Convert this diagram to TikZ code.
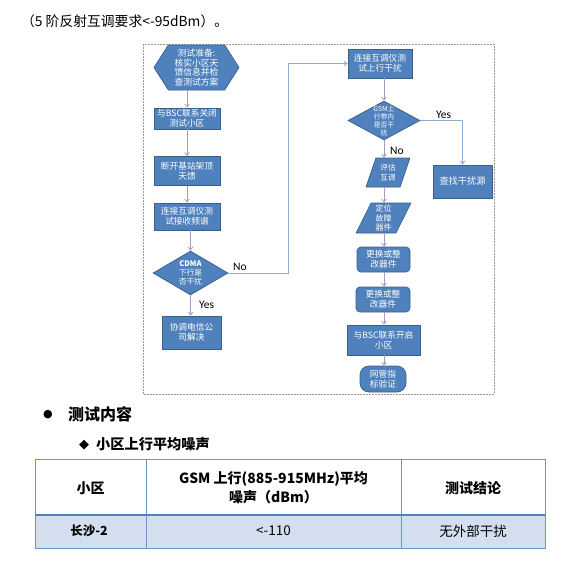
\documentclass[tikz,border=0pt]{standalone}
\usepackage{fontspec}
\setmainfont{Noto Sans CJK SC}
\newfontfamily\yesnofont{Carlito}
\newfontfamily\symfont{DejaVu Sans}
\usetikzlibrary{shapes.geometric,shapes.symbols,arrows.meta}
\definecolor{fcfill}{HTML}{4F81BD}
\definecolor{fcdraw}{HTML}{3A5F8D}
\definecolor{lilac}{HTML}{A99BC0}
\definecolor{elbow}{HTML}{8EACD2}
\definecolor{tabline}{HTML}{6F93C6}
\definecolor{tabthick}{HTML}{4F81BD}
\definecolor{tabfill}{HTML}{D3DFEE}
\tikzset{
  fc/.style={fill=fcfill,draw=fcdraw,line width=0.7pt,text=white,align=center,
    inner sep=0pt,font=\fontsize{8.7}{10.3}\selectfont},
  fcbox/.style={fc,rectangle},
  fcround/.style={fc,rectangle,rounded corners=4pt},
  fcpara/.style={fc,trapezium,trapezium left angle=70,trapezium right angle=110,trapezium stretches=true},
  fcdia/.style={fc,diamond},
  fctext/.style={text=white,align=center,inner sep=0pt},
  vline/.style={draw=lilac,line width=0.8pt,-{Straight Barb[length=3pt,width=4.5pt]}},
  eline/.style={draw=elbow,line width=0.9pt,-{Straight Barb[length=3pt,width=4.5pt]}},
  yn/.style={font=\yesnofont\fontsize{11.5}{12}\selectfont,inner sep=0pt},
  tabtxt/.style={inner sep=0pt,align=center,font=\fontsize{13}{18}\selectfont}
}
\begin{document}
\begin{tikzpicture}[x=1pt,y=-1pt]
\useasboundingbox (0,0) rectangle (574,562);
% header line
\node[anchor=west,inner sep=0pt,font=\fontsize{13.8}{15}\selectfont] (hdr) at (21,21) {（5 阶反射互调要求<-95dBm）。};
% dashed frame
\draw[gray!80,dashed,dash pattern=on 2pt off 1pt,line width=0.5pt] (143,44) rectangle (494,394);
% left column
\node[fc,signal,signal to=west and east,signal pointer angle=115,minimum width=85pt,minimum height=45pt,
  font=\fontsize{8.8}{9.6}\selectfont] (hex) at (196.5,67.5) {测试准备:\\核实小区天\\馈信息并检\\查测试方案};
\node[fcbox,minimum width=66pt,minimum height=21pt] (b1) at (187,118.5) {与BSC联系关闭\\测试小区};
\node[fcbox,minimum width=66pt,minimum height=29pt] (b2) at (187,171) {断开基站架顶\\天馈};
\node[fcbox,minimum width=66pt,minimum height=27pt] (b3) at (187,216.5) {连接互调仪测\\试接收频谱};
\node[fcdia,minimum width=75pt,minimum height=44pt] (cdma) at (190.5,273) {};
\node[fctext,font=\fontsize{7.6}{8.6}\selectfont] (cdmat) at (cdma.center) {\textbf{CDMA}\\下行是\\否干扰};
\node[fcbox,minimum width=59pt,minimum height=33pt] (b4) at (191.5,332.5) {协调电信公\\司解决};
% right column
\node[fcbox,minimum width=64pt,minimum height=29pt] (r1) at (380,63.5) {连接互调仪测\\试上行干扰};
\node[fcdia,minimum width=72pt,minimum height=39pt] (gsm) at (384,120.5) {};
\node[fctext,font=\fontsize{6.8}{8}\selectfont] (gsmt) at (gsm.center) {GSM上\\行带内\\是否干\\扰};
\node[fcbox,minimum width=59pt,minimum height=33pt,font=\fontsize{9.2}{10.3}\selectfont] (find) at (462.5,181.5) {查找干扰源};
\node[fcpara,minimum width=44pt,minimum height=29pt,font=\fontsize{7.6}{10}\selectfont] (p1) at (388,172.5) {评估\\互调};
\node[fcpara,minimum width=55pt,minimum height=30pt,font=\fontsize{8}{9.6}\selectfont] (p2) at (383.5,218) {定位\\故障\\器件};
\node[fcround,minimum width=53pt,minimum height=25pt] (r2) at (383.5,259.5) {更换或整\\改器件};
\node[fcround,minimum width=54pt,minimum height=25pt] (r3) at (383,299.5) {更换或整\\改器件};
\node[fcbox,minimum width=73pt,minimum height=30pt] (r4) at (383.5,340) {与BSC联系开启\\小区};
\node[fc,rectangle,rounded corners=9pt,minimum width=46pt,minimum height=26pt] (r5) at (383,379) {网管指\\标验证};
% connectors left
\draw[vline] (hex.south -| b1.north) -- (b1.north);
\draw[vline] (b1.south) -- (b2.north);
\draw[vline] (b2.south) -- (b3.north);
\draw[vline] (b3.south -| cdma.north) -- (cdma.north);
\draw[vline] (cdma.south) -- (cdma.south |- b4.north);
\node[yn,anchor=west] (yes1) at (199,305) {Yes};
\coordinate (cturn) at (288,273);
\draw[eline] (cdma.east) -- (cturn) |- (r1.west);
\node[yn,anchor=west] (no1) at (233,267) {No};
% connectors right
\draw[vline] (r1.south -| gsm.north) -- (gsm.north);
\draw[eline] (gsm.east) -| (find.north);
\node[yn,anchor=west] (yes2) at (436,115) {Yes};
\draw[vline] (gsm.south) -- (gsm.south |- p1.north);
\node[yn,anchor=west] (no2) at (390,151) {No};
\draw[vline] (p1.south -| gsm.south) -- (gsm.south |- p2.north);
\draw[vline] (p2.south -| gsm.south) -- (gsm.south |- r2.north);
\draw[vline] (r2.south -| gsm.south) -- (gsm.south |- r3.north);
\draw[vline] (r3.south -| gsm.south) -- (gsm.south |- r4.north);
\draw[vline] (r4.south -| gsm.south) -- (gsm.south |- r5.north);
% bullets
\node[inner sep=0pt,font=\symfont\fontsize{11}{12}\selectfont] (bul1) at (48,415) {●};
\node[anchor=west,inner sep=0pt,font=\bfseries\fontsize{16}{18}\selectfont] (sec) at (68,414) {测试内容};
\node[inner sep=0pt,font=\symfont\fontsize{13}{14}\selectfont] (bul2) at (84,445) {◆};
\node[anchor=west,inner sep=0pt,font=\bfseries\fontsize{14.2}{16}\selectfont] (sub) at (96,444) {小区上行平均噪声};
% table
\fill[tabfill] (35,515) rectangle (545,548);
\draw[tabline,line width=0.8pt] (35,459) rectangle (545,548);
\draw[tabline,line width=0.8pt] (146,459) -- (146,548);
\draw[tabline,line width=0.8pt] (401,459) -- (401,548);
\draw[tabthick,line width=2.6pt] (35,515) -- (545,515);
\node[tabtxt,font=\bfseries\fontsize{14}{19}\selectfont] (th1) at (90.5,488) {小区};
\node[tabtxt,font=\bfseries\fontsize{14}{19}\selectfont] (th2) at (273.5,487.5) {GSM 上行(885-915MHz)平均\\噪声（dBm）};
\node[tabtxt,font=\bfseries\fontsize{14}{19}\selectfont] (th3) at (473,488) {测试结论};
\node[tabtxt,font=\bfseries\fontsize{12.5}{15}\selectfont] (td1) at (89,531) {长沙-2};
\node[tabtxt,font=\fontsize{13.5}{18}\selectfont] (td2) at (273.5,531) {<-110};
\node[tabtxt,font=\fontsize{13.5}{18}\selectfont] (td3) at (473,531) {无外部干扰};
\end{tikzpicture}
\end{document}
